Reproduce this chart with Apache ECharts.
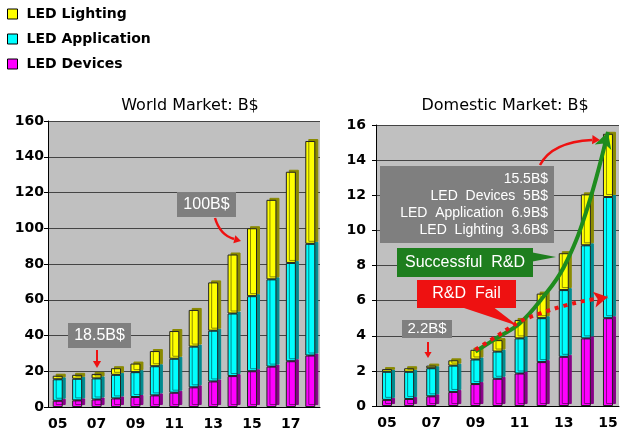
<!DOCTYPE html>
<html><head><meta charset="utf-8">
<script src="https://cdn.jsdelivr.net/npm/echarts@6/dist/echarts.min.js"></script>
<style>html,body{margin:0;padding:0;background:#fff}#c{width:636px;height:437px}</style>
</head><body><div id="c"></div>
<script>
// ---- data ----
const worldYears = ['05','06','07','08','09','10','11','12','13','14','15','16','17','18'];
const worldDevices     = [3.5, 3.7, 4.2, 4.8, 5.6, 6.5, 8.0, 11.0, 14.3, 17.3, 20.0, 22.6, 25.6, 28.8];
const worldApplication = [12.0, 12.1, 11.8, 13.2, 13.9, 16.3, 19.0, 22.8, 28.4, 35.0, 42.0, 48.8, 55.0, 62.5];
const worldLighting    = [2.0, 2.2, 2.5, 3.7, 4.8, 8.5, 15.5, 20.5, 27.0, 33.0, 38.0, 44.5, 51.0, 57.5];

const domYears = ['05','06','07','08','09','10','11','12','13','14','15'];
const domDevices     = [0.35, 0.4, 0.55, 0.8, 1.25, 1.55, 1.85, 2.5, 2.8, 3.85, 5.0];
const domApplication = [1.6, 1.55, 1.6, 1.5, 1.4, 1.55, 2.0, 2.5, 3.8, 5.3, 6.9];
const domLighting    = [0.15, 0.2, 0.15, 0.3, 0.55, 0.65, 1.05, 1.4, 2.1, 2.9, 3.6];

// annotation trend lines (domestic)
const successTrend = [null, null, null, null, 3.1, 3.9, 4.7, 6.1, 7.9, 11.0, 15.6];
const failTrend    = [null, null, null, null, 3.2, 4.0, 4.8, 5.3, 5.7, 6.0, 6.2];

const worldTicks = {min: 0, max: 160, interval: 20};
const domTicks = {min: 0, max: 16, interval: 2};

const names = ['LED Lighting', 'LED Application', 'LED Devices'];
const colors = {'LED Lighting': '#ffff00', 'LED Application': '#00ffff', 'LED Devices': '#ff00ff'};
const shades = {'LED Lighting': '#8a8a00', 'LED Application': '#008a8f', 'LED Devices': '#870087'};

// ---- chart ----
const chart = echarts.init(document.getElementById('c'));
const FONT = 'DejaVu Sans';

function barSeries(name, data, idx) {
  return {
    name, type: 'bar', stack: 's' + idx, data,
    xAxisIndex: idx, yAxisIndex: idx, barWidth: 10,
    itemStyle: {color: colors[name], borderColor: '#222', borderWidth: 1,
      shadowColor: shades[name], shadowOffsetX: 3, shadowOffsetY: -2, shadowBlur: 0},
    emphasis: {disabled: true}
  };
}

function xAxis(idx, data) {
  return {
    type: 'category', gridIndex: idx, data,
    axisLine: {lineStyle: {color: '#000', width: 1}},
    axisTick: {show: false},
    axisLabel: {interval: 1, color: '#000', fontFamily: FONT, fontWeight: 'bold', fontSize: 14, margin: 10}
  };
}
function yAxis(idx, t, margin) {
  return {
    type: 'value', gridIndex: idx, min: t.min, max: t.max, interval: t.interval,
    axisLine: {show: true, lineStyle: {color: '#000'}},
    axisTick: {show: true, length: 4, lineStyle: {color: '#000'}},
    axisLabel: {color: '#000', fontFamily: FONT, fontWeight: 'bold', fontSize: 14, margin},
    splitLine: {lineStyle: {color: '#444', width: 1}}
  };
}

const series = [];
series.push(barSeries('LED Devices', worldDevices, 0));
series.push(barSeries('LED Application', worldApplication, 0));
series.push(barSeries('LED Lighting', worldLighting, 0));
series.push(barSeries('LED Devices', domDevices, 1));
series.push(barSeries('LED Application', domApplication, 1));
series.push(barSeries('LED Lighting', domLighting, 1));

series.push({
  name: 'success', type: 'line', xAxisIndex: 1, yAxisIndex: 1, smooth: 0.4,
  data: successTrend.map((v, i) => i === successTrend.length - 1 ? {value: v, symbol: 'arrow', symbolSize: [13, 16], symbolRotate: -18} : v),
  showSymbol: true, symbol: 'none', connectNulls: false, z: 5,
  lineStyle: {color: '#1e8c1e', width: 4}, itemStyle: {color: '#1e8c1e'}
});
series.push({
  name: 'fail', type: 'line', xAxisIndex: 1, yAxisIndex: 1, smooth: 0.4,
  data: failTrend.map((v, i) => i === failTrend.length - 1 ? {value: v, symbol: 'arrow', symbolSize: [12, 14], symbolRotate: -80} : v),
  showSymbol: true, symbol: 'none', z: 5,
  lineStyle: {color: '#ee1111', width: 4, type: [4, 5]}, itemStyle: {color: '#ee1111'}
});

const wht = '#ffffff';
const gray = '#7f7f7f';
function box(x, y, w, h, fill, text, fs, bold) {
  return [
    {type: 'rect', shape: {x, y, width: w, height: h}, style: {fill}, z: 10},
    {type: 'text', x: x + w / 2, y: y + h / 2, z: 11,
      style: {text, fill: wht, font: (bold ? 'bold ' : '') + fs + 'px "Liberation Sans"', textAlign: 'center', textVerticalAlign: 'middle'}}
  ];
}
function arrowHead(x, y, ang, color, size) {
  const s = size || 8;
  const a1 = ang + Math.PI * 0.83, a2 = ang - Math.PI * 0.83;
  return {type: 'polygon', z: 11, shape: {points: [[x, y], [x + s * Math.cos(a1), y + s * Math.sin(a1)], [x + s * Math.cos(a2), y + s * Math.sin(a2)]]}, style: {fill: color}};
}

const graphics = [].concat(
  box(68, 323, 63, 25, gray, '18.5B$', 16),
  [{type: 'line', z: 11, shape: {x1: 97, y1: 350, x2: 97, y2: 362}, style: {stroke: '#ee1111', lineWidth: 2}},
   arrowHead(97, 368, Math.PI / 2, '#ee1111', 8)],
  box(177, 192, 59, 25, gray, '100B$', 16),
  [{type: 'bezierCurve', z: 11, shape: {x1: 215, y1: 218, cpx1: 220, cpy1: 235, x2: 234, y2: 239}, style: {stroke: '#ee1111', lineWidth: 2.5, fill: null}},
   arrowHead(241, 241, 0.25, '#ee1111', 8)],
  [{type: 'rect', z: 10, shape: {x: 380, y: 166, width: 174, height: 77}, style: {fill: gray}},
   {type: 'text', z: 11, x: 548, y: 171, style: {text: '15.5B$\nLED  Devices  5B$\nLED  Application  6.9B$\nLED  Lighting  3.6B$', fill: wht,
     font: '14px "Liberation Sans"', textAlign: 'right', lineHeight: 17}},
   {type: 'bezierCurve', z: 11, shape: {x1: 540, y1: 165, cpx1: 552, cpy1: 142, x2: 592, y2: 140}, style: {stroke: '#ee1111', lineWidth: 2.5, fill: null}},
   arrowHead(600, 140, 0.05, '#ee1111', 9)],
  [{type: 'polygon', z: 10, shape: {points: [[530, 252], [556, 257], [530, 262]]}, style: {fill: '#1e7e1e'}}],
  box(397, 248, 136, 29, '#1e7e1e', 'Successful  R&D', 16),
  [{type: 'polygon', z: 10, shape: {points: [[458, 306], [492, 306], [518, 326]]}, style: {fill: '#ee1111'}}],
  box(417, 280, 99, 28, '#ee1111', 'R&D  Fail', 16),
  box(402, 320, 50, 18, gray, '2.2B$', 15),
  [{type: 'line', z: 11, shape: {x1: 428, y1: 342, x2: 428, y2: 352}, style: {stroke: '#ee1111', lineWidth: 2}},
   arrowHead(428, 358, Math.PI / 2, '#ee1111', 7)]
);

chart.setOption({
  animation: false,
  backgroundColor: '#ffffff',
  title: [
    {text: 'World Market: B$', left: 185, top: 93, textAlign: 'center',
      textStyle: {fontFamily: FONT, fontWeight: 'normal', fontSize: 16, color: '#000'}},
    {text: 'Domestic Market: B$', left: 500, top: 93, textAlign: 'center',
      textStyle: {fontFamily: FONT, fontWeight: 'normal', fontSize: 16, color: '#000'}}
  ],
  legend: {
    data: names, orient: 'vertical', left: 2, top: 2, itemWidth: 10, itemHeight: 10, itemGap: 11,
    icon: 'rect', itemStyle: {borderColor: '#000', borderWidth: 1},
    textStyle: {fontFamily: FONT, fontWeight: 'bold', fontSize: 14, color: '#000', padding: [0, 0, 0, 4]}
  },
  grid: [
    {left: 48, right: 316, top: 121, bottom: 30, show: true, backgroundColor: '#c0c0c0', borderWidth: 0},
    {left: 376, right: 17, top: 125, bottom: 31, show: true, backgroundColor: '#c0c0c0', borderWidth: 0}
  ],
  xAxis: [xAxis(0, worldYears), xAxis(1, domYears)],
  yAxis: [yAxis(0, worldTicks, 4), yAxis(1, domTicks, 10)],
  series,
  graphic: graphics
});
</script></body></html>
